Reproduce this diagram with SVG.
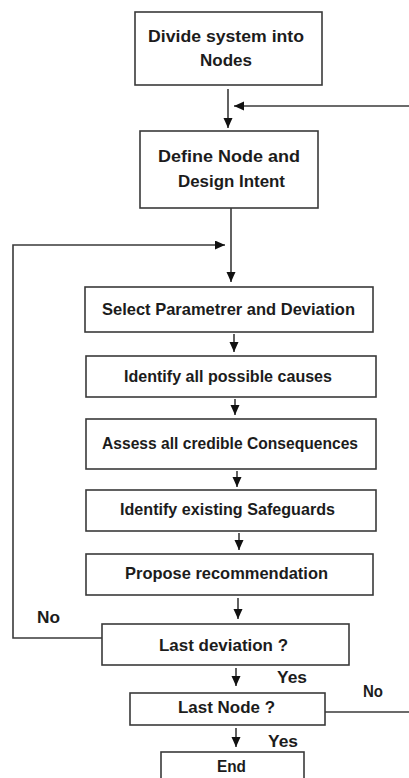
<svg xmlns="http://www.w3.org/2000/svg" width="409" height="778" viewBox="0 0 409 778">
<style>
.box{fill:#fff;stroke:#3a3a3a;stroke-width:1.6}
.t{font-family:"Liberation Sans",Arial,sans-serif;font-weight:bold;font-size:16.5px;fill:#1c1c1c;text-anchor:middle}
.big{font-size:17px}
.c{fill:none;stroke:#3a3a3a;stroke-width:1.6}
</style>
<defs>
<marker id="ah" markerUnits="userSpaceOnUse" markerWidth="10" markerHeight="10" refX="10" refY="4.5" orient="auto">
<path d="M0,0 L10,4.5 L0,9 z" fill="#111"/>
</marker>
</defs>
<rect width="409" height="778" fill="#fff"/>
<g id="connectors">
<line class="c" x1="228" y1="89" x2="228" y2="128" marker-end="url(#ah)"/>
<line class="c" x1="410" y1="106" x2="234" y2="106" marker-end="url(#ah)"/>
<line class="c" x1="231" y1="208" x2="231" y2="282" marker-end="url(#ah)"/>
<polyline class="c" points="102,638 13,638 13,245 225,245" marker-end="url(#ah)"/>
<line class="c" x1="234" y1="334" x2="234" y2="352" marker-end="url(#ah)"/>
<line class="c" x1="235" y1="399" x2="235" y2="415" marker-end="url(#ah)"/>
<line class="c" x1="237" y1="471" x2="237" y2="487" marker-end="url(#ah)"/>
<line class="c" x1="239" y1="533" x2="239" y2="550" marker-end="url(#ah)"/>
<line class="c" x1="238" y1="598" x2="238" y2="619" marker-end="url(#ah)"/>
<line class="c" x1="236" y1="668" x2="236" y2="686" marker-end="url(#ah)"/>
<line class="c" x1="325" y1="712" x2="410" y2="712"/>
<line class="c" x1="236" y1="728" x2="236" y2="747" marker-end="url(#ah)"/>
<text class="t" x="48.5" y="623" textLength="23" lengthAdjust="spacingAndGlyphs">No</text>
<text class="t" x="292" y="683" textLength="30" lengthAdjust="spacingAndGlyphs">Yes</text>
<text class="t" x="373" y="697" textLength="20" lengthAdjust="spacingAndGlyphs">No</text>
<text class="t" x="283" y="747" textLength="30" lengthAdjust="spacingAndGlyphs">Yes</text>
</g>
<g id="n1">
<rect class="box" x="135" y="12" width="187" height="73"/>
<text class="t big" x="226" y="42" textLength="156" lengthAdjust="spacingAndGlyphs">Divide system into</text>
<text class="t big" x="226" y="66" textLength="52" lengthAdjust="spacingAndGlyphs">Nodes</text>
</g>
<g id="n2">
<rect class="box" x="140" y="131" width="178" height="77"/>
<text class="t big" x="229" y="162" textLength="142" lengthAdjust="spacingAndGlyphs">Define Node and</text>
<text class="t big" x="231.5" y="187" textLength="107" lengthAdjust="spacingAndGlyphs">Design Intent</text>
</g>
<g id="n3">
<rect class="box" x="85" y="287" width="288" height="45"/>
<text class="t" x="228.5" y="315" textLength="253" lengthAdjust="spacingAndGlyphs">Select Parametrer and Deviation</text>
</g>
<g id="n4">
<rect class="box" x="86" y="356" width="290" height="41"/>
<text class="t" x="228" y="382" textLength="208" lengthAdjust="spacingAndGlyphs">Identify all possible causes</text>
</g>
<g id="n5">
<rect class="box" x="86" y="419" width="290" height="50"/>
<text class="t" x="230" y="449" textLength="256" lengthAdjust="spacingAndGlyphs">Assess all credible Consequences</text>
</g>
<g id="n6">
<rect class="box" x="86" y="490" width="290" height="41"/>
<text class="t" x="227.5" y="515" textLength="215" lengthAdjust="spacingAndGlyphs">Identify existing Safeguards</text>
</g>
<g id="n7">
<rect class="box" x="86" y="554" width="287" height="41"/>
<text class="t" x="226.5" y="579" textLength="203" lengthAdjust="spacingAndGlyphs">Propose recommendation</text>
</g>
<g id="n8">
<rect class="box" x="102" y="624" width="247" height="41"/>
<text class="t" x="223.5" y="651" textLength="129" lengthAdjust="spacingAndGlyphs">Last deviation ?</text>
</g>
<g id="n9">
<rect class="box" x="130" y="693" width="195" height="32"/>
<text class="t" x="226.5" y="713" textLength="97" lengthAdjust="spacingAndGlyphs">Last Node ?</text>
</g>
<g id="n10">
<rect class="box" x="161" y="752" width="143" height="40"/>
<text class="t" x="231.5" y="772" textLength="29" lengthAdjust="spacingAndGlyphs">End</text>
</g>
</svg>
